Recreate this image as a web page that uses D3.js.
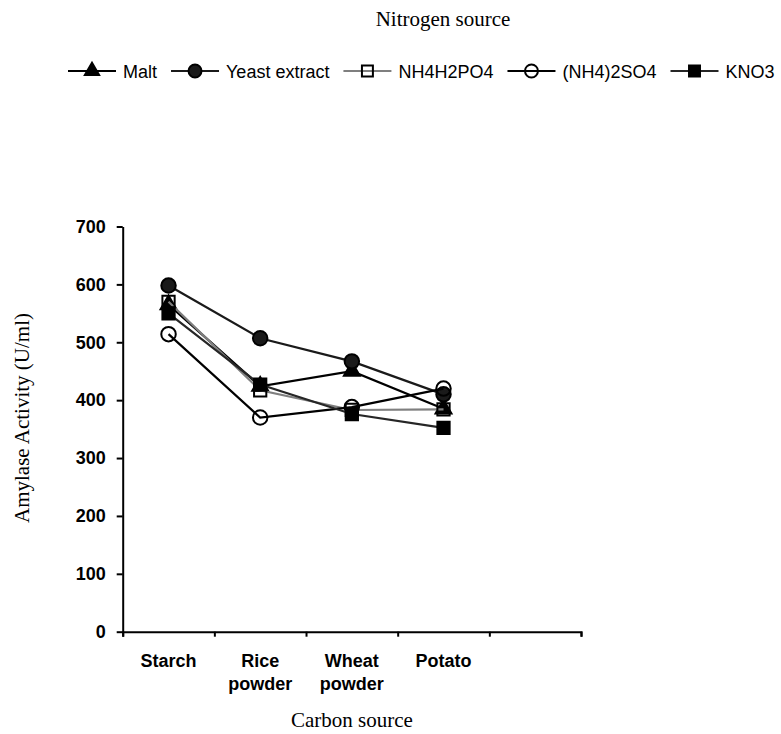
<!DOCTYPE html>
<html>
<head>
<meta charset="utf-8">
<script src="https://cdn.jsdelivr.net/npm/d3@7"></script>
<style>
	body { margin: 0; background: #fff; }
	text { fill: #000; }
	.serif { font-family: "Liberation Serif", "Times New Roman", serif; }
	.sans { font-family: "Liberation Sans", Arial, sans-serif; }
</style>
</head>
<body>
<div id="chart"></div>
<script>
// carbon sources (5th band on the axis is left empty)
var categories = ["Starch", "Rice powder", "Wheat powder", "Potato"];
var nBands = 5;
var yTicks = [0, 100, 200, 300, 400, 500, 600, 700];

var seriesNames = ["Malt", "Yeast extract", "NH4H2PO4", "(NH4)2SO4", "KNO3"];
var malt     = [565, 424, 450, 385];
var yeast    = [598, 507, 467, 410];
var nh4h2po4 = [570, 417, 383, 384];
var nh42so4  = [514, 370, 388, 420];
var kno3     = [550, 427, 376, 352];

function drawChart() {
	var width = 781, height = 734;
	var margin = {top: 226.5, right: 200, bottom: 102.3, left: 122.7};
	var svg = d3.select("#chart").append("svg")
		.attr("width", width)
		.attr("height", height);

	var x = d3.scaleLinear().domain([0, nBands]).range([margin.left, width - margin.right]);
	var y = d3.scaleLinear().domain([0, 700]).range([height - margin.bottom, margin.top]);

	var series = [
		{name: seriesNames[0], values: malt, color: "#000", marker: "triangle", fill: "#000"},
		{name: seriesNames[1], values: yeast, color: "#1a1a1a", marker: "circle", fill: "#1a1a1a"},
		{name: seriesNames[2], values: nh4h2po4, color: "#7f7f7f", marker: "square", fill: "none"},
		{name: seriesNames[3], values: nh42so4, color: "#000", marker: "circle", fill: "none"},
		{name: seriesNames[4], values: kno3, color: "#262626", marker: "square", fill: "#000"}
	];

	var symbolType = {triangle: d3.symbolTriangle, circle: d3.symbolCircle, square: d3.symbolSquare};
	var symbolSize = {triangle: 110, circle: 165, square: 150};
	var symbol = function(s, k) {
		return d3.symbol().type(symbolType[s.marker]).size(symbolSize[s.marker] * (k || 1))();
	};

	// axes
	var xAxis = svg.append("g")
		.attr("transform", "translate(0," + y(0) + ")")
		.call(d3.axisBottom(x).tickValues(d3.range(nBands + 1)).tickFormat("").tickSizeOuter(0).tickSize(5));
	xAxis.select(".domain").attr("stroke-width", 2);
	xAxis.selectAll(".tick line").attr("stroke-width", 2);

	var yAxis = svg.append("g")
		.attr("transform", "translate(" + margin.left + ",0)")
		.call(d3.axisLeft(y).tickValues(yTicks).tickSize(6).tickSizeOuter(0).tickPadding(11));
	yAxis.select(".domain").attr("stroke-width", 2);
	yAxis.selectAll(".tick line").attr("stroke-width", 2);
	yAxis.selectAll(".tick text")
		.attr("class", "sans")
		.attr("font-size", "18px")
		.attr("font-weight", "bold");

	// category labels, wrapped on spaces
	var catLabels = svg.append("g").attr("class", "sans")
		.attr("font-size", "18px").attr("font-weight", "bold").attr("text-anchor", "middle");
	catLabels.selectAll("text").data(categories).enter().append("text")
		.attr("x", function(d, i) { return x(i + 0.5); })
		.attr("y", 667)
		.each(function(d) {
			var t = d3.select(this);
			var x0 = t.attr("x");
			d.split(" ").forEach(function(w, j) {
				t.append("tspan").attr("x", x0).attr("dy", j ? 23 : 0).text(w);
			});
		});

	// lines and markers
	var line = d3.line()
		.x(function(d, i) { return x(i + 0.5); })
		.y(function(d) { return y(d); });

	var plot = svg.append("g");
	series.forEach(function(s) {
		var g = plot.append("g");
		g.append("path")
			.attr("d", line(s.values))
			.attr("fill", "none")
			.attr("stroke", s.color)
			.attr("stroke-width", 2.2);
		g.selectAll("path.mk").data(s.values).enter().append("path")
			.attr("class", "mk")
			.attr("d", symbol(s))
			.attr("transform", function(d, i) { return "translate(" + x(i + 0.5) + "," + y(d) + ")"; })
			.attr("fill", s.fill)
			.attr("stroke", "#000")
			.attr("stroke-width", 2);
	});

	// axis titles
	svg.append("text").attr("class", "serif")
		.attr("font-size", "21px").attr("text-anchor", "middle")
		.attr("x", (x.range()[0] + x.range()[1]) / 2).attr("y", 727)
		.text("Carbon source");
	svg.append("text").attr("class", "serif")
		.attr("font-size", "21px").attr("text-anchor", "middle")
		.attr("transform", "translate(29,418) rotate(-90)")
		.text("Amylase Activity (U/ml)");

	// legend
	svg.append("text").attr("class", "serif")
		.attr("font-size", "21px").attr("text-anchor", "middle")
		.attr("x", 443).attr("y", 26)
		.text("Nitrogen source");

	var legend = svg.append("g").attr("transform", "translate(0,71)");
	var lx = 68;
	series.forEach(function(s) {
		var item = legend.append("g").attr("transform", "translate(" + lx + ",0)");
		item.append("line")
			.attr("x1", 0).attr("x2", 48)
			.attr("stroke", s.color).attr("stroke-width", 2.2);
		item.append("path")
			.attr("d", symbol(s, 0.8))
			.attr("transform", "translate(24,0)")
			.attr("fill", s.fill)
			.attr("stroke", "#000")
			.attr("stroke-width", 2);
		var t = item.append("text").attr("class", "sans")
			.attr("font-size", "18px")
			.attr("x", 55).attr("y", 7)
			.text(s.name);
		lx += 55 + t.node().getComputedTextLength() + 14;
	});
}

drawChart();
</script>
</body>
</html>
